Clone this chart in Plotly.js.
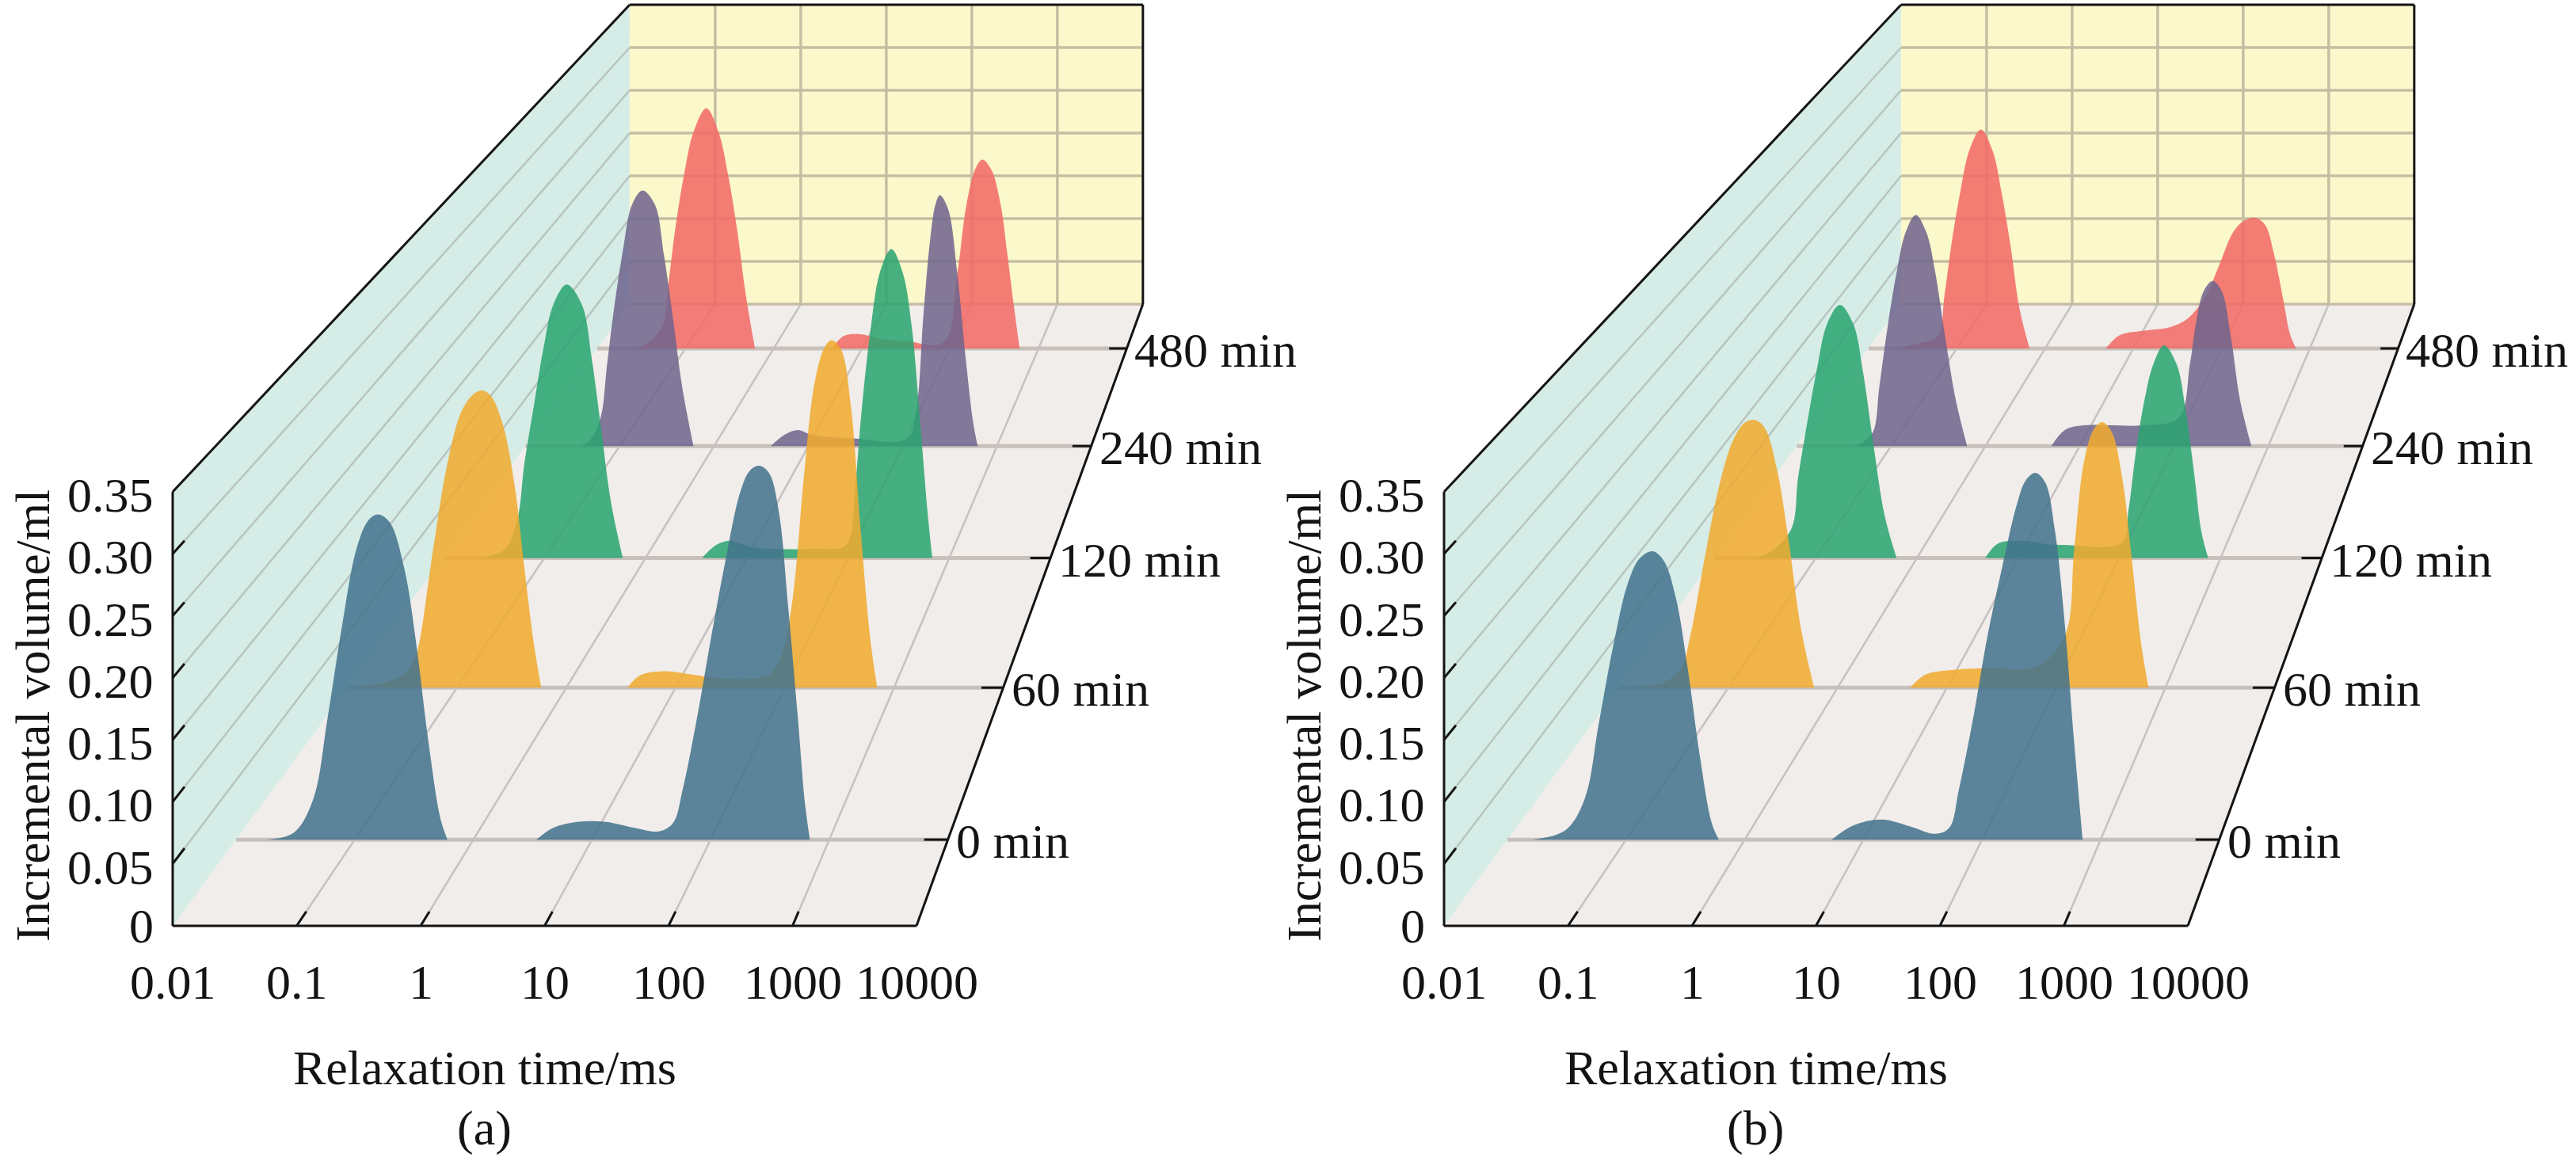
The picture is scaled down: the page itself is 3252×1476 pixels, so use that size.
<!DOCTYPE html>
<html>
<head>
<meta charset="utf-8">
<script src="https://cdn.plot.ly/plotly-3.0.1.min.js"></script>
<style>
  html, body { margin: 0; padding: 0; background: #fff; }
  #chart { width: 3252px; height: 1476px; }
</style>
</head>
<body>
<div id="chart"></div>
<script>
// ---- data (log10 of relaxation time in ms, incremental volume in ml) ----
var times = ['0 min', '60 min', '120 min', '240 min', '480 min'];
var t2Ticks = [0.01, 0.1, 1, 10, 100, 1000, 10000];
var t2TickText = ['0.01', '0.1', '1', '10', '100', '1000', '10000'];
var volTicks = [0, 0.05, 0.10, 0.15, 0.20, 0.25, 0.30, 0.35];
var volTickText = ['0', '0.05', '0.10', '0.15', '0.20', '0.25', '0.30', '0.35'];

// panel (a)
var a0Log = [-1.754, -1.513, -1.350, -1.228, -1.107, -0.985, -0.885, -0.804, -0.703, -0.581, -0.480, -0.379, -0.278, -0.218,
             0.531, 0.673, 0.875, 1.117, 1.360, 1.562, 1.683, 1.764, 1.886, 2.007, 2.129, 2.250, 2.331, 2.412, 2.493, 2.574, 2.654, 2.735, 2.796, 2.837];
var a0Vol = [0, 0.006, 0.034, 0.103, 0.180, 0.245, 0.269, 0.274, 0.267, 0.228, 0.164, 0.083, 0.018, 0,
             0, 0.010, 0.015, 0.015, 0.010, 0.007, 0.014, 0.042, 0.103, 0.172, 0.237, 0.293, 0.311, 0.315, 0.309, 0.277, 0.196, 0.103, 0.030, 0];
var a60Log = [-1.95, -1.701, -1.482, -1.394, -1.350, -1.218, -1.086, -0.954, -0.844, -0.769, -0.690, -0.581, -0.471, -0.383, -0.295, -0.229,
              0.562, 0.672, 0.891, 1.155, 1.463, 1.860, 1.970, 2.040, 2.099, 2.174, 2.275, 2.363, 2.429, 2.517, 2.605, 2.692, 2.780, 2.846];
var a60Vol = [0, 0.004, 0.012, 0.025, 0.039, 0.127, 0.206, 0.254, 0.269, 0.272, 0.267, 0.241, 0.184, 0.109, 0.039, 0,
              0, 0.011, 0.015, 0.012, 0.008, 0.012, 0.030, 0.060, 0.105, 0.192, 0.280, 0.311, 0.318, 0.309, 0.258, 0.148, 0.047, 0];
var a120Log = [-1.623, -1.386, -1.268, -1.196, -1.102, -1.007, -0.912, -0.779, -0.628, -0.533, -0.438, -0.343, -0.225,
               0.558, 0.699, 0.842, 1.032, 1.268, 1.648, 1.956, 2.024, 2.069, 2.136, 2.226, 2.315, 2.428, 2.540, 2.630, 2.720, 2.787, 2.832];
var a120Vol = [0, 0.009, 0.037, 0.094, 0.151, 0.208, 0.250, 0.270, 0.250, 0.198, 0.127, 0.056, 0,
               0, 0.013, 0.017, 0.011, 0.009, 0.009, 0.011, 0.021, 0.066, 0.147, 0.228, 0.282, 0.305, 0.282, 0.228, 0.125, 0.044, 0];
var a240Log = [-1.423, -1.326, -1.206, -1.133, -1.061, -0.965, -0.869, -0.758, -0.627, -0.531, -0.434, -0.338, -0.218,
               0.602, 0.747, 0.891, 1.036, 1.500, 2.049, 2.145, 2.218, 2.290, 2.348, 2.396, 2.483, 2.579, 2.675, 2.748, 2.796];
var a240Vol = [0, 0.005, 0.029, 0.087, 0.145, 0.208, 0.256, 0.271, 0.256, 0.203, 0.135, 0.063, 0,
               0, 0.012, 0.017, 0.012, 0.008, 0.008, 0.039, 0.135, 0.217, 0.256, 0.266, 0.251, 0.184, 0.087, 0.025, 0];
var a480Log = [-1.628, -1.474, -1.268, -1.191, -1.113, -1.011, -0.908, -0.763, -0.624, -0.521, -0.418, -0.315, -0.212,
               0.664, 0.793, 0.999, 1.205, 1.514, 1.926, 2.081, 2.184, 2.287, 2.365, 2.468, 2.571, 2.648, 2.725, 2.786];
var a480Vol = [0, 0.003, 0.024, 0.075, 0.137, 0.199, 0.245, 0.272, 0.245, 0.199, 0.137, 0.060, 0,
               0, 0.014, 0.016, 0.011, 0.008, 0.007, 0.086, 0.163, 0.204, 0.214, 0.202, 0.163, 0.106, 0.045, 0];

// panel (b)
var b0Log = [-1.794, -1.511, -1.350, -1.228, -1.107, -0.985, -0.885, -0.776, -0.682, -0.581, -0.480, -0.379, -0.278, -0.218,
             0.733, 0.915, 1.158, 1.400, 1.603, 1.724, 1.805, 1.927, 2.047, 2.169, 2.290, 2.371, 2.452, 2.533, 2.614, 2.695, 2.776, 2.848];
var b0Vol = [0, 0.008, 0.034, 0.099, 0.164, 0.216, 0.237, 0.243, 0.235, 0.204, 0.144, 0.071, 0.014, 0,
             0, 0.012, 0.017, 0.011, 0.005, 0.010, 0.042, 0.103, 0.172, 0.229, 0.281, 0.303, 0.309, 0.301, 0.261, 0.185, 0.083, 0];
var b60Log = [-1.921, -1.613, -1.437, -1.350, -1.218, -1.086, -0.954, -0.844, -0.756, -0.668, -0.558, -0.449, -0.339, -0.216,
              0.663, 0.803, 1.023, 1.374, 1.814, 2.078, 2.166, 2.254, 2.342, 2.421, 2.509, 2.605, 2.692, 2.780, 2.846];
var b60Vol = [0, 0.004, 0.017, 0.047, 0.118, 0.184, 0.227, 0.243, 0.245, 0.238, 0.201, 0.135, 0.056, 0,
              0, 0.012, 0.016, 0.018, 0.019, 0.047, 0.127, 0.206, 0.236, 0.243, 0.234, 0.192, 0.118, 0.039, 0];
var b120Log = [-1.671, -1.481, -1.244, -1.173, -1.078, -0.983, -0.888, -0.761, -0.628, -0.533, -0.438, -0.319, -0.201,
               0.676, 0.795, 1.032, 1.268, 1.459, 2.024, 2.091, 2.159, 2.248, 2.338, 2.441, 2.563, 2.653, 2.743, 2.810, 2.877];
var b120Vol = [0, 0.004, 0.028, 0.080, 0.137, 0.189, 0.231, 0.250, 0.231, 0.184, 0.118, 0.042, 0,
               0, 0.014, 0.017, 0.014, 0.013, 0.015, 0.048, 0.102, 0.156, 0.192, 0.210, 0.192, 0.147, 0.080, 0.026, 0];
var b240Log = [-1.400, -1.300, -1.191, -1.124, -1.037, -0.941, -0.844, -0.738, -0.627, -0.531, -0.434, -0.314, -0.193,
               0.699, 0.843, 1.036, 1.325, 1.663, 2.050, 2.169, 2.241, 2.314, 2.410, 2.507, 2.603, 2.700, 2.820];
var b240Vol = [0, 0.004, 0.015, 0.063, 0.126, 0.184, 0.227, 0.245, 0.227, 0.184, 0.121, 0.049, 0,
               0, 0.017, 0.022, 0.022, 0.022, 0.030, 0.087, 0.135, 0.164, 0.175, 0.164, 0.116, 0.049, 0];
var b480Log = [-1.680, -1.423, -1.216, -1.139, -1.062, -0.959, -0.855, -0.727, -0.598, -0.495, -0.392, -0.289, -0.176,
               0.689, 0.845, 1.102, 1.411, 1.618, 1.823, 1.979, 2.133, 2.261, 2.380, 2.493, 2.596, 2.699, 2.776, 2.844];
var b480Vol = [0, 0.006, 0.014, 0.060, 0.117, 0.178, 0.225, 0.248, 0.225, 0.178, 0.117, 0.045, 0,
               0, 0.015, 0.020, 0.024, 0.034, 0.060, 0.096, 0.132, 0.145, 0.148, 0.140, 0.106, 0.055, 0.016, 0];

// ---- styling ----
var seriesColors = ['rgba(66,114,141,0.86)', 'rgba(240,170,47,0.86)', 'rgba(42,164,112,0.86)',
                    'rgba(111,100,141,0.86)', 'rgba(242,105,100,0.86)'];
var FONT = 'Liberation Serif, Times New Roman, serif';
var INK = '#141414';

// ---- perspective box ----
var W = 3252, H = 1476;
var FRONT = {x0: 218, x1: 1157, y0: 1169, y1: 621};   // front face on screen
var VANISH = {x: 2079, y: -1363};                      // vanishing point of depth lines
var BACK_SCALE = 0.69;
var LOG_MIN = -2, LOG_MAX = 4, VOL_MAX = 0.35;

function depthScale(w) { return 1 / (1 + w * (1 / BACK_SCALE - 1)); }

function project(shift, lg, w, vol) {
    var fx = FRONT.x0 + (lg - LOG_MIN) / (LOG_MAX - LOG_MIN) * (FRONT.x1 - FRONT.x0);
    var fy = FRONT.y0 - vol / VOL_MAX * (FRONT.y0 - FRONT.y1);
    var s = depthScale(w);
    return [shift + VANISH.x + (fx - VANISH.x) * s, VANISH.y + (fy - VANISH.y) * s];
}

function depthOf(i) { return (i + 0.5) / times.length; }

// polyline of segments [[lg,w,v],[lg,w,v]], joined with gaps
function segTrace(shift, segs, color, width) {
    var xs = [], ys = [];
    segs.forEach(function (s) {
        var p = project(shift, s[0][0], s[0][1], s[0][2]);
        var q = project(shift, s[1][0], s[1][1], s[1][2]);
        xs.push(p[0], q[0], null);
        ys.push(p[1], q[1], null);
    });
    return {type: 'scatter', mode: 'lines', x: xs, y: ys, hoverinfo: 'skip',
            line: {color: color, width: width}};
}

function polyTrace(shift, pts, fill) {
    var xs = [], ys = [];
    pts.forEach(function (p) {
        var q = project(shift, p[0], p[1], p[2]);
        xs.push(q[0]); ys.push(q[1]);
    });
    return {type: 'scatter', mode: 'lines', x: xs, y: ys, fill: 'toself', fillcolor: fill,
            line: {width: 0, color: fill}, hoverinfo: 'skip'};
}

// one filled trace per lobe (runs between zero points)
function seriesTraces(shift, logs, vols, w, color) {
    var out = [], start = -1;
    for (var i = 0; i < logs.length; i++) {
        if (vols[i] === 0) {
            if (start >= 0 && i > start + 1) {
                var xs = [], ys = [];
                for (var j = start; j <= i; j++) {
                    var p = project(shift, logs[j], w, vols[j]);
                    xs.push(p[0]); ys.push(p[1]);
                }
                out.push({type: 'scatter', mode: 'lines', x: xs, y: ys, fill: 'toself',
                          fillcolor: color, hoverinfo: 'skip',
                          line: {width: 0, color: color, shape: 'spline', smoothing: 1}});
            }
            start = i;
        }
    }
    return out;
}

function panel(shift, series, label) {
    var traces = [], ann = [];
    var decades = t2Ticks.map(function (t) { return Math.log10(t); });
    var inner = decades.slice(1, -1);

    // walls
    traces.push(polyTrace(shift, [[-2, 0, 0], [4, 0, 0], [4, 1, 0], [-2, 1, 0]], '#f1edea'));
    traces.push(polyTrace(shift, [[-2, 0, 0], [-2, 1, 0], [-2, 1, VOL_MAX], [-2, 0, VOL_MAX]], '#d6ece6'));
    traces.push(polyTrace(shift, [[-2, 1, 0], [4, 1, 0], [4, 1, VOL_MAX], [-2, 1, VOL_MAX]], '#fbf8cc'));

    // grids
    var backSegs = [];
    volTicks.slice(0, -1).forEach(function (v) { backSegs.push([[-2, 1, v], [4, 1, v]]); });
    inner.forEach(function (d) { backSegs.push([[d, 1, 0], [d, 1, VOL_MAX]]); });
    traces.push(segTrace(shift, backSegs, 'rgba(196,186,160,0.95)', 3.5));

    var wallSegs = volTicks.slice(1, -1).map(function (v) { return [[-2, 0, v], [-2, 1, v]]; });
    traces.push(segTrace(shift, wallSegs, 'rgba(178,186,184,0.8)', 2.5));

    var floorSegs = inner.map(function (d) { return [[d, 0, 0], [d, 1, 0]]; });
    traces.push(segTrace(shift, floorSegs, 'rgba(190,186,186,0.85)', 2.5));

    var baseSegs = times.map(function (t, i) { return [[-2, depthOf(i), 0], [4, depthOf(i), 0]]; });
    traces.push(segTrace(shift, baseSegs, 'rgba(200,192,187,1)', 5));

    // series, back to front
    for (var i = series.length - 1; i >= 0; i--) {
        traces = traces.concat(seriesTraces(shift, series[i][0], series[i][1], depthOf(i), seriesColors[i]));
    }

    // box edges and ticks
    traces.push(segTrace(shift, [
        [[-2, 0, 0], [-2, 0, VOL_MAX]],
        [[-2, 0, 0], [4, 0, 0]],
        [[-2, 0, VOL_MAX], [-2, 1, VOL_MAX]],
        [[-2, 1, VOL_MAX], [4, 1, VOL_MAX]],
        [[4, 1, VOL_MAX], [4, 1, 0]],
        [[4, 1, 0], [4, 0, 0]]
    ], INK, 3));
    var tickSegs = [];
    inner.forEach(function (d) { tickSegs.push([[d, 0, 0], [d, 0.016, 0]]); });
    volTicks.slice(1, -1).forEach(function (v) { tickSegs.push([[-2, 0, v], [-2, 0.018, v]]); });
    times.forEach(function (t, i) { tickSegs.push([[3.8, depthOf(i), 0], [4, depthOf(i), 0]]); });
    traces.push(segTrace(shift, tickSegs, INK, 3));

    // text
    function txt(x, y, s, xa, size, extra) {
        var a = {x: x, y: y, xref: 'x', yref: 'y', text: s, showarrow: false,
                 xanchor: xa || 'center', yanchor: 'middle',
                 font: {family: FONT, size: size || 62, color: INK}};
        for (var k in extra || {}) a[k] = extra[k];
        ann.push(a);
    }
    decades.forEach(function (d, i) {
        var p = project(shift, d, 0, 0);
        txt(p[0], 1240, t2TickText[i]);
    });
    volTicks.forEach(function (v, i) {
        var p = project(shift, -2, 0, v);
        txt(shift + 196, p[1] + (i === 0 ? 0 : 4), volTickText[i], 'right');
    });
    times.forEach(function (t, i) {
        var p = project(shift, 4, depthOf(i), 0);
        txt(p[0] + 8, p[1] + 2, t, 'left');
    });
    txt(shift + 41, 904, 'Incremental volume/ml', 'center', 61, {textangle: -90});
    txt(shift + 612, 1348, 'Relaxation time/ms', 'center', 62);
    txt(shift + 611, 1424, label, 'center', 62);
    return {traces: traces, ann: ann};
}

var pa = panel(0, [[a0Log, a0Vol], [a60Log, a60Vol], [a120Log, a120Vol], [a240Log, a240Vol], [a480Log, a480Vol]], '(a)');
var pb = panel(1605, [[b0Log, b0Vol], [b60Log, b60Vol], [b120Log, b120Vol], [b240Log, b240Vol], [b480Log, b480Vol]], '(b)');

var layout = {
    width: W,
    height: H,
    margin: {l: 0, r: 0, t: 0, b: 0},
    paper_bgcolor: '#ffffff',
    plot_bgcolor: '#ffffff',
    showlegend: false,
    hovermode: false,
    xaxis: {range: [0, W], visible: false, fixedrange: true},
    yaxis: {range: [H, 0], visible: false, fixedrange: true},
    annotations: pa.ann.concat(pb.ann)
};

Plotly.newPlot('chart', pa.traces.concat(pb.traces), layout, {displayModeBar: false, staticPlot: true});
</script>
</body>
</html>
